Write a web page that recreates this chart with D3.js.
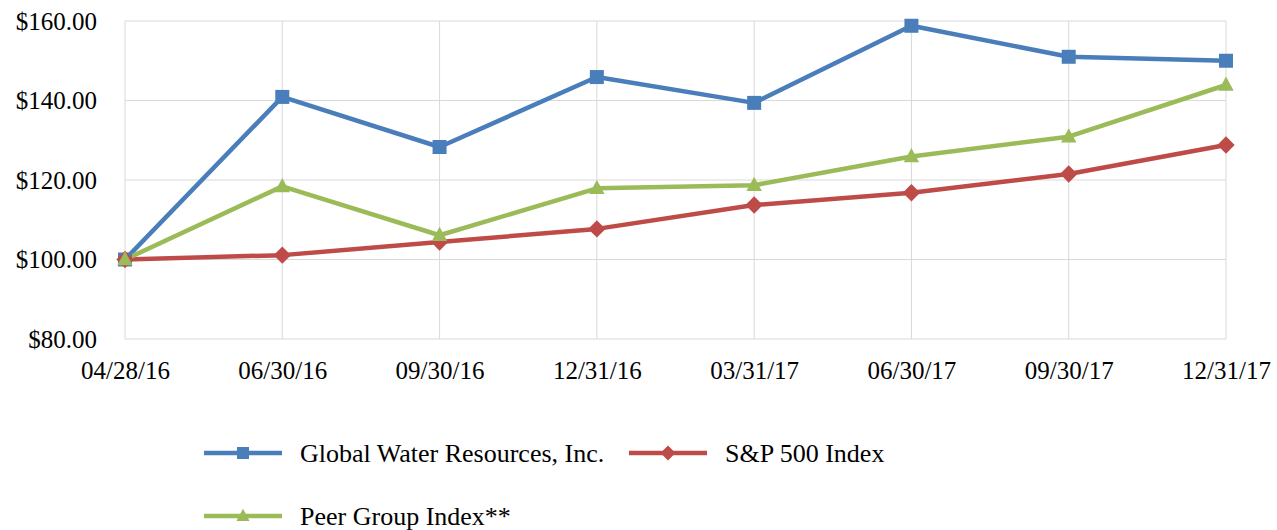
<!DOCTYPE html>
<html>
<head>
<meta charset="utf-8">
<script src="https://cdn.jsdelivr.net/npm/d3@7"></script>
<style>
  body { margin: 0; background: #fff; }
  svg text { font-family: "Liberation Serif", Tinos, "Times New Roman", "DejaVu Serif", serif !important; fill: #000; }
</style>
</head>
<body>
<div id="chart"></div>
<script>
// Data
const dates = ["04/28/16", "06/30/16", "09/30/16", "12/31/16", "03/31/17", "06/30/17", "09/30/17", "12/31/17"];
const globalWater = [100, 140.9, 128.3, 145.9, 139.4, 158.8, 151.0, 150.0];
const sp500 = [100, 101.1, 104.4, 107.7, 113.7, 116.8, 121.5, 128.8];
const peerGroup = [100, 118.4, 106.1, 117.9, 118.7, 125.9, 130.9, 143.9];
const yTicks = [80, 100, 120, 140, 160];

const series = [
  { name: "Global Water Resources, Inc.", values: globalWater, color: "#4a7ebb", marker: "square" },
  { name: "S&P 500 Index", values: sp500, color: "#be4b48", marker: "diamond" },
  { name: "Peer Group Index**", values: peerGroup, color: "#9bbb59", marker: "triangle" },
];

// Dimensions
const dimensions = {
  width: 1277,
  height: 530,
  left: 125,
  right: 1226,
  top: 21,
  bottom: 339,
};

const svg = d3
  .select("#chart")
  .append("svg")
  .attr("width", dimensions.width)
  .attr("height", dimensions.height);

const xScale = d3
  .scalePoint()
  .domain(dates)
  .range([dimensions.left, dimensions.right]);

const yScale = d3
  .scaleLinear()
  .domain([80, 160])
  .range([dimensions.bottom, dimensions.top]);

// Grid
const grid = svg.append("g");
grid
  .selectAll("line.h")
  .data(yTicks)
  .join("line")
  .attr("class", "h")
  .attr("x1", dimensions.left)
  .attr("x2", dimensions.right)
  .attr("y1", (d) => yScale(d))
  .attr("y2", (d) => yScale(d))
  .attr("stroke", "#d9d9d9")
  .attr("stroke-width", 1);

grid
  .selectAll("line.v")
  .data(dates)
  .join("line")
  .attr("class", "v")
  .attr("x1", (d) => xScale(d))
  .attr("x2", (d) => xScale(d))
  .attr("y1", dimensions.top)
  .attr("y2", dimensions.bottom)
  .attr("stroke", "#d9d9d9")
  .attr("stroke-width", 1);

// Axes (labels only)
const yAxis = d3
  .axisLeft(yScale)
  .tickValues(yTicks)
  .tickSize(0)
  .tickPadding(28)
  .tickFormat((d) => "$" + d3.format(".2f")(d));

svg
  .append("g")
  .attr("transform", `translate(${dimensions.left}, 0)`)
  .call(yAxis)
  .call((g) => g.select(".domain").remove())
  .selectAll("text")
  .style("font-size", "25px")
  .attr("fill", "#000");

const xAxis = d3.axisBottom(xScale).tickSize(0).tickPadding(22);

svg
  .append("g")
  .attr("transform", `translate(0, ${dimensions.bottom})`)
  .call(xAxis)
  .call((g) => g.select(".domain").remove())
  .selectAll("text")
  .style("font-size", "25px")
  .attr("fill", "#000");

// Markers
function drawMarker(sel, type, color, size) {
  if (type === "square") {
    sel
      .append("rect")
      .attr("x", -size / 2)
      .attr("y", -size / 2)
      .attr("width", size)
      .attr("height", size)
      .attr("fill", color);
  } else if (type === "diamond") {
    const s = size * 0.62;
    sel
      .append("path")
      .attr("d", `M0,${-s}L${s},0L0,${s}L${-s},0Z`)
      .attr("fill", color);
  } else {
    const s = size * 0.55;
    sel
      .append("path")
      .attr("d", `M0,${-s * 1.1}L${s},${s * 0.75}L${-s},${s * 0.75}Z`)
      .attr("fill", color);
  }
}

// Lines
const lineGenerator = d3
  .line()
  .x((d, i) => xScale(dates[i]))
  .y((d) => yScale(d));

series.forEach((s) => {
  svg
    .append("path")
    .datum(s.values)
    .attr("d", lineGenerator)
    .attr("fill", "none")
    .attr("stroke", s.color)
    .attr("stroke-width", 4.5)
    .attr("stroke-linejoin", "round");
});

series.forEach((s) => {
  svg
    .append("g")
    .selectAll("g")
    .data(s.values)
    .join("g")
    .attr("transform", (d, i) => `translate(${xScale(dates[i])}, ${yScale(d)})`)
    .each(function () {
      drawMarker(d3.select(this), s.marker, s.color, 14);
    });
});

// Legend
const legendItems = [
  { s: series[0], x: 204, y: 453 },
  { s: series[1], x: 629, y: 453 },
  { s: series[2], x: 204, y: 516 },
];

const legend = svg.append("g");
legendItems.forEach((item) => {
  const g = legend.append("g").attr("transform", `translate(${item.x}, ${item.y})`);
  g.append("line")
    .attr("x1", 0)
    .attr("x2", 78)
    .attr("stroke", item.s.color)
    .attr("stroke-width", 4.5);
  const m = g.append("g").attr("transform", "translate(39, 0)");
  drawMarker(m, item.s.marker, item.s.color, 12);
  g.append("text")
    .attr("x", 96)
    .attr("dy", "0.33em")
    .style("font-size", "26px")
    .text(item.s.name);
});
</script>
</body>
</html>
